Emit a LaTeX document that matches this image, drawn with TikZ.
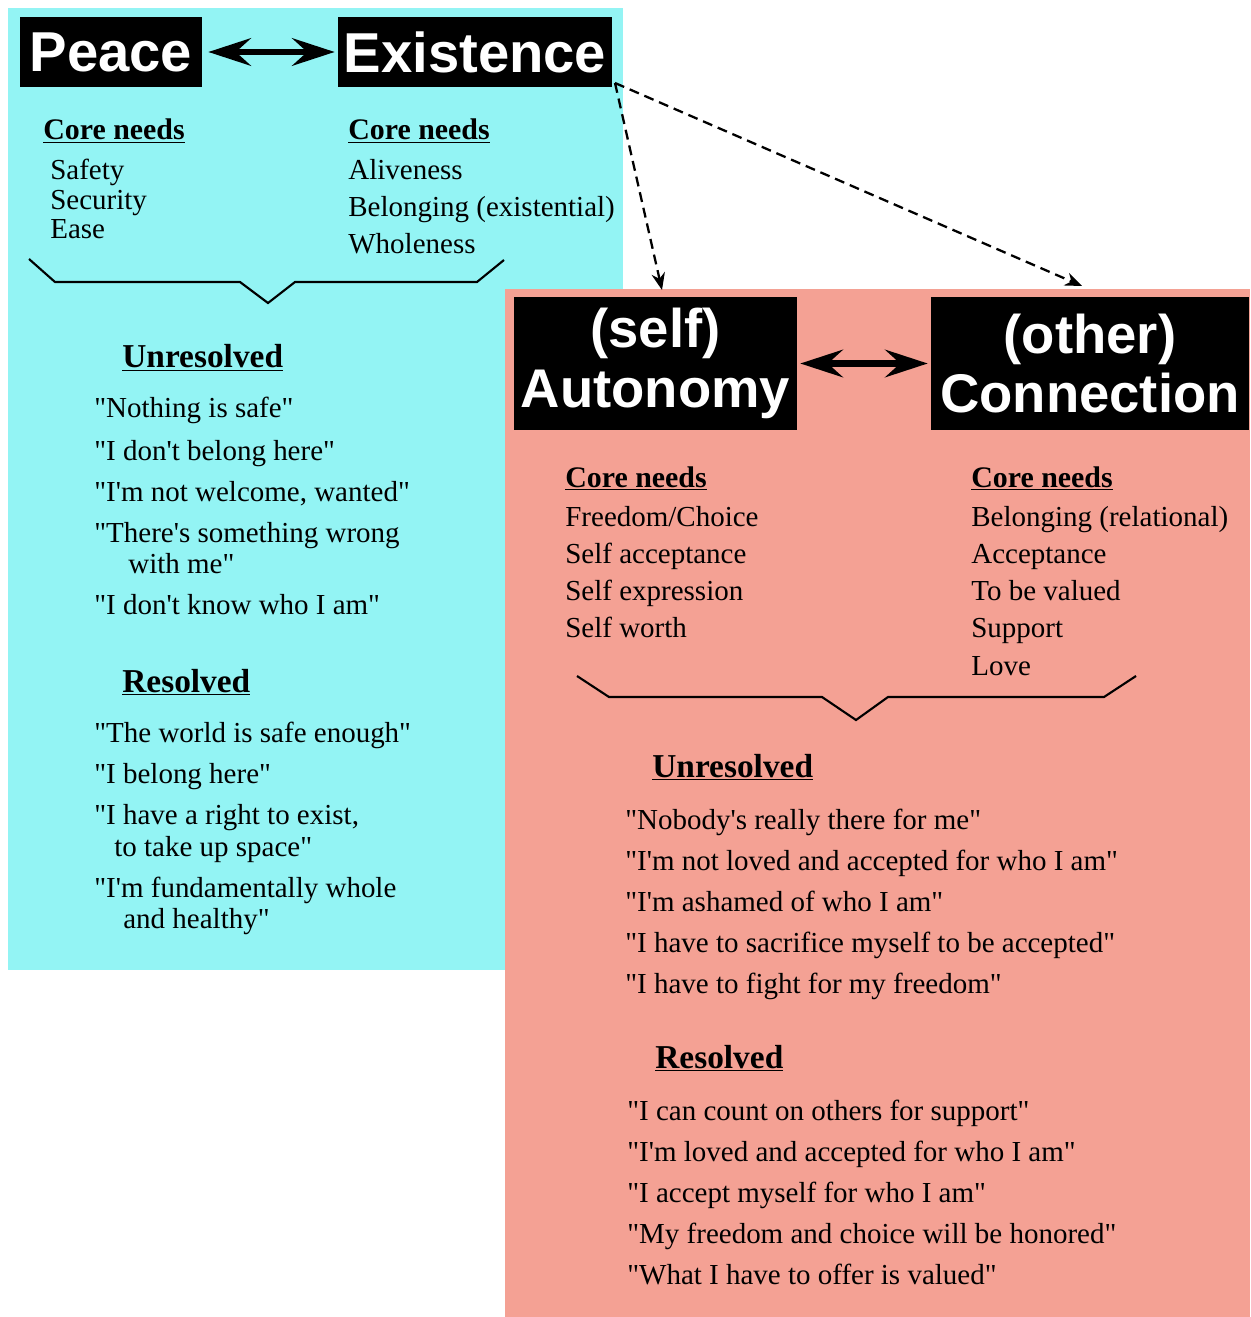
\documentclass[tikz,border=0pt]{standalone}
\usepackage{fontspec}
\setmainfont{Liberation Serif}[Ligatures=TeXOff]
\setsansfont{Liberation Sans}
\usetikzlibrary{arrows.meta}

\definecolor{peacecyan}{RGB}{147,244,244}
\definecolor{selfsalmon}{RGB}{244,161,148}

\tikzset{
  titlebox/.style={fill=black, text=white, inner sep=0pt, align=center,
    font=\sffamily\bfseries\fontsize{32}{34}\selectfont},
  heading/.style={anchor=base west, inner sep=0pt, font=\bfseries\fontsize{19}{22}\selectfont},
  corehead/.style={anchor=base west, inner sep=0pt, font=\bfseries\fontsize{17}{20}\selectfont},
  item/.style={anchor=base west, inner sep=0pt, font=\fontsize{16.5}{20}\selectfont},
  bothway/.style={{Stealth[length=0.85cm,width=0.55cm,inset=0.3cm]}-{Stealth[length=0.85cm,width=0.55cm,inset=0.3cm]},
    line width=3.5pt},
  leadto/.style={-{Stealth[length=0.34cm,width=0.27cm]}, line width=1.3pt,
    dash pattern=on 0.2cm off 0.12cm},
  brace/.style={line width=1.2pt}
}

\begin{document}
\begin{tikzpicture}[x=0.02cm,y=-0.02cm]
\useasboundingbox (0,0) rectangle (1250,1317);

% Panels
\fill[peacecyan] (8,8) rectangle (623,970);
\fill[selfsalmon] (505,289) rectangle (1250,1317);

% Title boxes
\node[titlebox, minimum width=3.64cm, minimum height=1.4cm] (peace) at (111,52) {Peace};
\node[titlebox, minimum width=5.48cm, minimum height=1.4cm] (existence) at (475,52) {Existence};
\node[titlebox, minimum width=5.66cm, minimum height=2.66cm, font=\sffamily\bfseries\fontsize{31}{34}\selectfont] (autonomy) at (655.5,363.5) {(self)\\Autonomy};
\node[titlebox, minimum width=6.36cm, minimum height=2.66cm, font=\sffamily\bfseries\fontsize{31}{34}\selectfont] (connection) at (1090,363.5) {(other)\\Connection};

\draw[bothway, shorten <=0.12cm, shorten >=0.06cm] (peace.east) -- (existence.west);
\draw[bothway, shorten <=0.06cm, shorten >=0.06cm] (autonomy.east) -- (connection.west);

% Dashed leads
\coordinate (lead) at (615,83);
\coordinate (selfin) at (662,290);
\coordinate (otherin) at (1082,286);
\draw[leadto] (lead) -- (selfin);
\draw[leadto] (lead) -- (otherin);

% Peace / Existence core needs
\node[corehead] (peacehead) at (43,140) {\underline{Core needs}};
\foreach \txt/\yy [count=\i] in {Safety/180, Security/210, Ease/239}
  \node[item] (peaceneed\i) at (50,\yy) {\txt};
\node[corehead] (existhead) at (348,140) {\underline{Core needs}};
\foreach \txt/\yy [count=\i] in {Aliveness/180, Belonging (existential)/217, Wholeness/254}
  \node[item] (existneed\i) at (348,\yy) {\txt};

\draw[brace] (29,259) -- (55,282) -- (240,282) -- (268,303) -- (295,282) -- (477,282) -- (504,260);

\node[heading] (unres) at (122,368) {\underline{Unresolved}};
\foreach \txt/\xx/\yy [count=\i] in {"Nothing is safe"/94/418, "I don't belong here"/94/460,
    {"I'm not welcome, wanted"}/94/501, "There's something wrong/94/542, with me"/128/573,
    "I don't know who I am"/94/614}
  \node[item] (unresq\i) at (\xx,\yy) {\txt};

\node[heading] (res) at (122,692) {\underline{Resolved}};
\foreach \txt/\xx/\yy [count=\i] in {"The world is safe enough"/94/742, "I belong here"/94/783,
    {"I have a right to exist,}/94/824, to take up space"/114/856,
    "I'm fundamentally whole/94/897, and healthy"/123/928}
  \node[item] (resq\i) at (\xx,\yy) {\txt};

% Autonomy / Connection core needs
\node[corehead] (selfhead) at (565,487) {\underline{Core needs}};
\foreach \txt/\yy [count=\i] in {{Freedom/Choice}/526, Self acceptance/563, Self expression/600, Self worth/637}
  \node[item] (selfneed\i) at (565,\yy) {\txt};
\node[corehead] (otherhead) at (971,487) {\underline{Core needs}};
\foreach \txt/\yy [count=\i] in {Belonging (relational)/526, Acceptance/563, To be valued/600, Support/637, Love/675}
  \node[item] (otherneed\i) at (971,\yy) {\txt};

\draw[brace] (577,676) -- (609,697) -- (822,697) -- (856,720) -- (888,697) -- (1104,697) -- (1136,676);

\node[heading] (unres2) at (652,777) {\underline{Unresolved}};
\foreach \txt/\yy [count=\i] in {"Nobody's really there for me"/829, "I'm not loved and accepted for who I am"/870,
    "I'm ashamed of who I am"/911, "I have to sacrifice myself to be accepted"/952,
    "I have to fight for my freedom"/993}
  \node[item] (unres2q\i) at (625,\yy) {\txt};

\node[heading] (res2) at (655,1068) {\underline{Resolved}};
\foreach \txt/\yy [count=\i] in {"I can count on others for support"/1120, "I'm loved and accepted for who I am"/1161,
    "I accept myself for who I am"/1202, "My freedom and choice will be honored"/1243,
    "What I have to offer is valued"/1284}
  \node[item] (res2q\i) at (627,\yy) {\txt};

\end{tikzpicture}
\end{document}
